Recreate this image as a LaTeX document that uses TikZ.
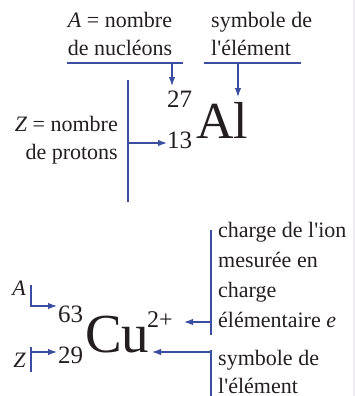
\documentclass[tikz,border=0pt]{standalone}
\usepackage{fontspec}
\setmainfont{Liberation Serif}
\usepackage{tikz}
\usetikzlibrary{arrows.meta, positioning}
\definecolor{linkblue}{RGB}{58,77,160}
\definecolor{inkgray}{RGB}{35,31,32}
\definecolor{edgelilac}{RGB}{238,235,247}
\newcommand{\apos}{\textquotesingle}

\begin{document}
\begin{tikzpicture}[
    x=1pt, y=-1pt,
    lbl/.style={inner sep=0pt, text=inkgray, font=\fontsize{22}{28}\selectfont},
    idx/.style={inner sep=0pt, text=inkgray, font=\fontsize{25}{25}\selectfont, anchor=base west},
    sym/.style={inner sep=0pt, text=inkgray, font=\fontsize{55}{55}\selectfont, anchor=base west},
    link/.style={draw=linkblue, line width=1.2pt},
    arr/.style={link, -{Latex[length=9pt, width=6.5pt]}},
]
\useasboundingbox (0,0) rectangle (355,396);
\fill[edgelilac] (353,0) rectangle (355,396);

% aluminium
\node[lbl, align=center, anchor=base] (nucl) at (120,56) {\textit{A} = nombre\\de nucléons};
\node[lbl, align=left, anchor=base west] (symb) at (211,56) {symbole de\\l\apos élément};
\node[lbl, align=right, anchor=base east] (prot) at (118,159) {\textit{Z} = nombre\\de protons};
\node[idx] (a27) at (167,107) {27};
\node[idx] (z13) at (167,148) {13};
\node[sym, font=\fontsize{52}{52}\selectfont] (al) at (196,138) {Al};

\coordinate (ulA) at (67,63);   \coordinate (urA) at (183,63);
\coordinate (ulS) at (204,63);  \coordinate (urS) at (301,63);
\coordinate (tipA) at (172,63); \coordinate (endA) at (172,86);
\coordinate (tipS) at (238,63); \coordinate (endS) at (238,97);
\coordinate (vtop) at (128,80); \coordinate (vbot) at (128,202);
\coordinate (vmid) at (128,143); \coordinate (endZ) at (167,143);

\draw[link] (ulA) -- (urA);
\draw[link] (ulS) -- (urS);
\draw[link] (vtop) -- (vbot);
\draw[arr] (tipA) -- (endA);
\draw[arr] (tipS) -- (endS);
\draw[arr] (vmid) -- (endZ);

% cuivre
\node[lbl, anchor=base east] (labA) at (26,295) {\textit{A}};
\node[lbl, anchor=base east] (labZ) at (26,367) {\textit{Z}};
\node[idx] (a63) at (58,322) {63};
\node[idx] (z29) at (58,363) {29};
\node[sym] (cu) at (85,352) {Cu};
\node[idx, font=\fontsize{24}{24}\selectfont] (chg) at (147,327) {2+};
\node[lbl, font=\fontsize{22}{29.7}\selectfont, align=left, anchor=base west] (chgtxt) at (218,327)
    {charge de l\apos ion\\mesurée en\\charge\\élémentaire \textit{e}};
\node[lbl, align=left, anchor=base west] (symtxt) at (218,393) {symbole de\\l\apos élément};

\coordinate (aT) at (31,285); \coordinate (aB) at (31,307);
\coordinate (zT) at (31,347); \coordinate (zB) at (31,372);
\coordinate (cT) at (211,230); \coordinate (cB) at (211,335);
\coordinate (sT) at (211,350); \coordinate (sB) at (211,396);
\coordinate (aM) at (31,306);  \coordinate (aE) at (57,306);
\coordinate (zM) at (31,352);  \coordinate (zE) at (57,352);
\coordinate (cM) at (211,322); \coordinate (cE) at (184,322);
\coordinate (sM) at (211,352); \coordinate (sE) at (152,352);

\draw[link] (aT) -- (aB);
\draw[link] (zT) -- (zB);
\draw[link] (cT) -- (cB);
\draw[link] (sT) -- (sB);
\draw[arr] (aM) -- (aE);
\draw[arr] (zM) -- (zE);
\draw[arr] (cM) -- (cE);
\draw[arr] (sM) -- (sE);
\end{tikzpicture}
\end{document}
